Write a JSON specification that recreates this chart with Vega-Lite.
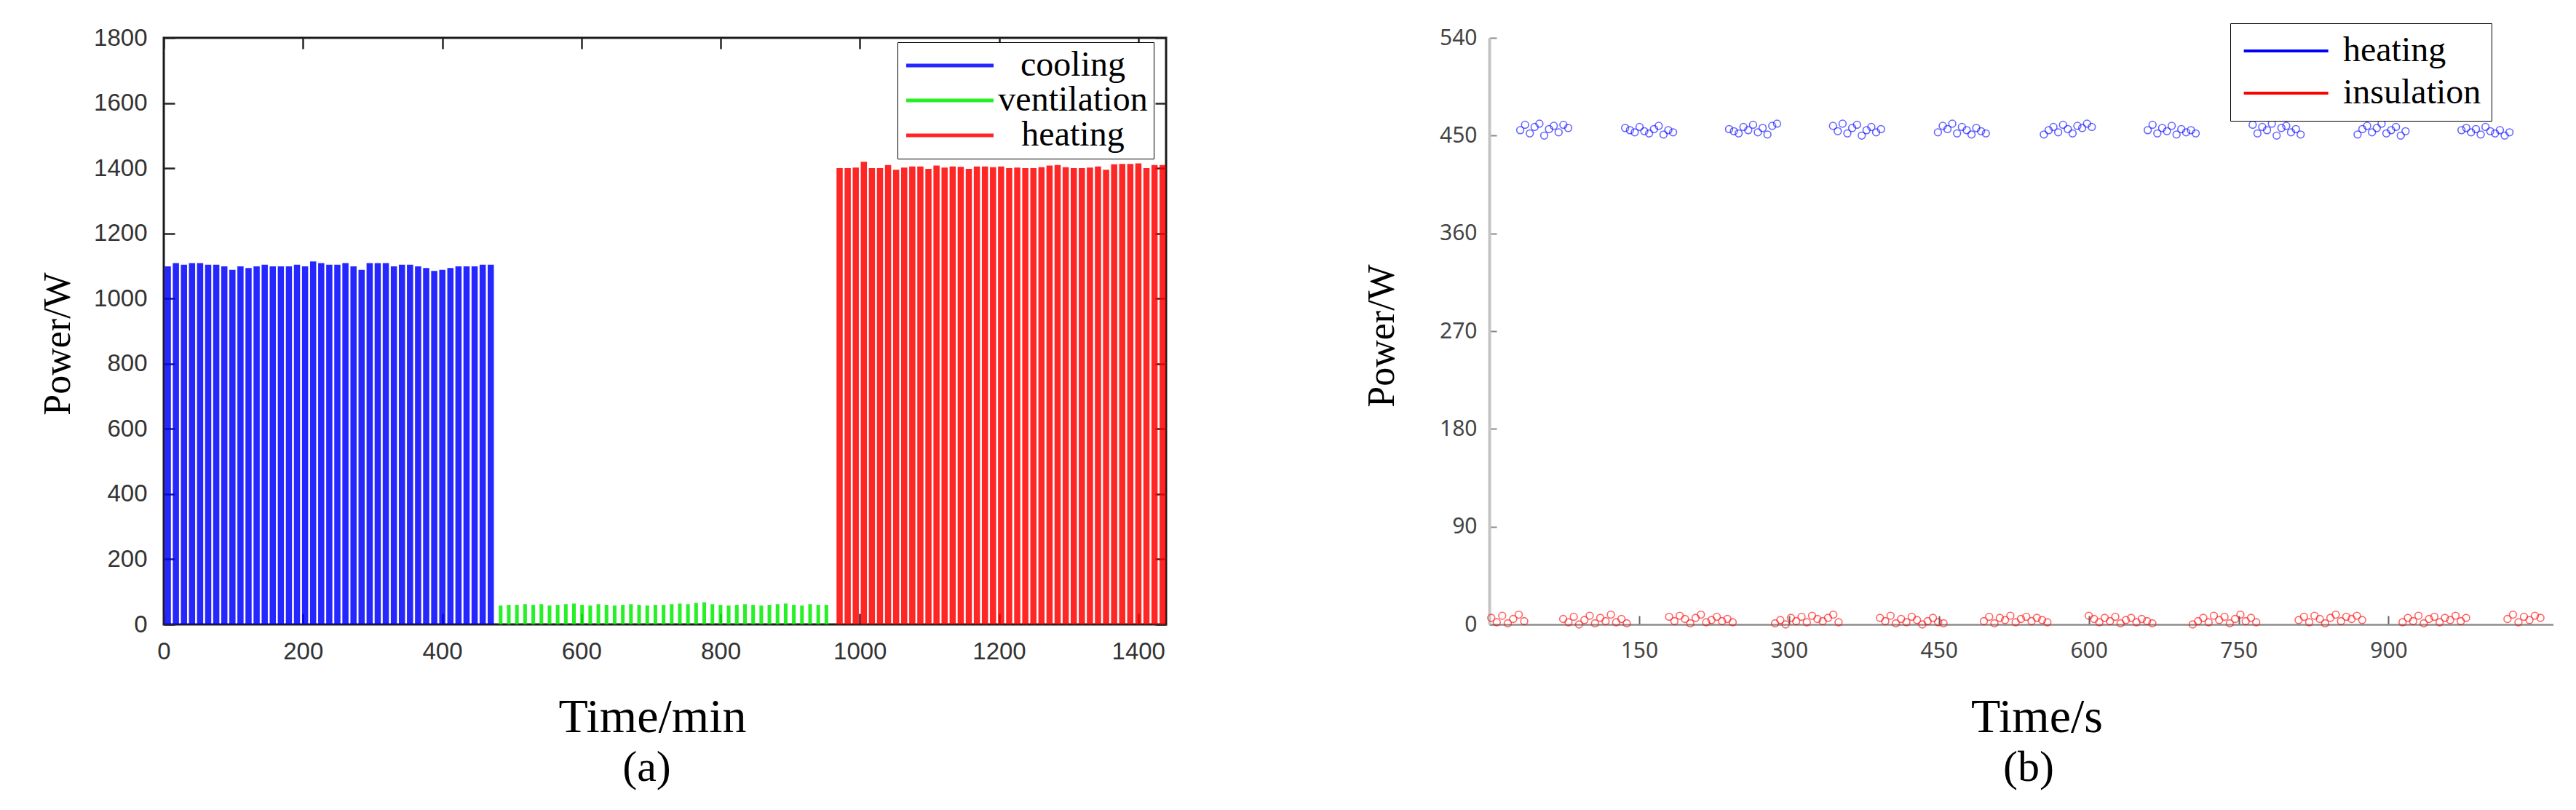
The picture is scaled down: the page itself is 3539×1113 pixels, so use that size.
{
  "$schema": "https://vega.github.io/schema/vega-lite/v6.json",
  "padding": {"left": 51, "top": 31, "right": 0, "bottom": 0},
  "background": "white",
  "spacing": 267,
  "config": {
    "font": "Liberation Sans",
    "axis": {"labelFlush": false, "labelOverlap": false, "grid": false, "titleFontWeight": "normal", "titleColor": "black"},
    "title": {"fontWeight": "normal", "color": "black"}
  },
  "datasets": {
    "a": [
      {"t":5.8,"p":1099,"s":"cooling"},{"t":17.4,"p":1109,"s":"cooling"},{"t":29,"p":1104,"s":"cooling"},{"t":40.6,"p":1109,"s":"cooling"},{"t":52.2,"p":1109,"s":"cooling"},
      {"t":63.8,"p":1104,"s":"cooling"},{"t":75.4,"p":1104,"s":"cooling"},{"t":87,"p":1099,"s":"cooling"},{"t":98.6,"p":1088,"s":"cooling"},{"t":110.2,"p":1099,"s":"cooling"},
      {"t":121.8,"p":1094,"s":"cooling"},{"t":133.4,"p":1099,"s":"cooling"},{"t":145,"p":1104,"s":"cooling"},{"t":156.6,"p":1099,"s":"cooling"},{"t":168.2,"p":1099,"s":"cooling"},
      {"t":179.8,"p":1099,"s":"cooling"},{"t":191.4,"p":1104,"s":"cooling"},{"t":203,"p":1099,"s":"cooling"},{"t":214.6,"p":1114,"s":"cooling"},{"t":226.2,"p":1109,"s":"cooling"},
      {"t":237.8,"p":1104,"s":"cooling"},{"t":249.4,"p":1104,"s":"cooling"},{"t":261,"p":1109,"s":"cooling"},{"t":272.6,"p":1099,"s":"cooling"},{"t":284.2,"p":1088,"s":"cooling"},
      {"t":295.8,"p":1109,"s":"cooling"},{"t":307.4,"p":1109,"s":"cooling"},{"t":319,"p":1109,"s":"cooling"},{"t":330.6,"p":1099,"s":"cooling"},{"t":342.2,"p":1104,"s":"cooling"},
      {"t":353.8,"p":1104,"s":"cooling"},{"t":365.4,"p":1099,"s":"cooling"},{"t":377,"p":1094,"s":"cooling"},{"t":388.6,"p":1085,"s":"cooling"},{"t":400.2,"p":1088,"s":"cooling"},
      {"t":411.8,"p":1094,"s":"cooling"},{"t":423.4,"p":1099,"s":"cooling"},{"t":435,"p":1099,"s":"cooling"},{"t":446.6,"p":1099,"s":"cooling"},{"t":458.2,"p":1104,"s":"cooling"},
      {"t":469.8,"p":1104,"s":"cooling"},
      {"t":484,"p":58,"s":"ventilation"},{"t":495.7,"p":60,"s":"ventilation"},{"t":507.4,"p":60,"s":"ventilation"},{"t":519.1,"p":62,"s":"ventilation"},{"t":530.8,"p":60,"s":"ventilation"},
      {"t":542.5,"p":62,"s":"ventilation"},{"t":554.2,"p":58,"s":"ventilation"},{"t":565.9,"p":60,"s":"ventilation"},{"t":577.6,"p":62,"s":"ventilation"},{"t":589.3,"p":64,"s":"ventilation"},
      {"t":601,"p":60,"s":"ventilation"},{"t":612.7,"p":58,"s":"ventilation"},{"t":624.4,"p":62,"s":"ventilation"},{"t":636.1,"p":60,"s":"ventilation"},{"t":647.8,"p":58,"s":"ventilation"},
      {"t":659.5,"p":60,"s":"ventilation"},{"t":671.2,"p":62,"s":"ventilation"},{"t":682.9,"p":60,"s":"ventilation"},{"t":694.6,"p":58,"s":"ventilation"},{"t":706.3,"p":60,"s":"ventilation"},
      {"t":718,"p":60,"s":"ventilation"},{"t":729.7,"p":62,"s":"ventilation"},{"t":741.4,"p":64,"s":"ventilation"},{"t":753.1,"p":62,"s":"ventilation"},{"t":764.8,"p":66,"s":"ventilation"},
      {"t":776.5,"p":68,"s":"ventilation"},{"t":788.2,"p":62,"s":"ventilation"},{"t":799.9,"p":60,"s":"ventilation"},{"t":811.6,"p":58,"s":"ventilation"},{"t":823.3,"p":60,"s":"ventilation"},
      {"t":835,"p":62,"s":"ventilation"},{"t":846.7,"p":60,"s":"ventilation"},{"t":858.4,"p":58,"s":"ventilation"},{"t":870.1,"p":60,"s":"ventilation"},{"t":881.8,"p":62,"s":"ventilation"},
      {"t":893.5,"p":64,"s":"ventilation"},{"t":905.2,"p":60,"s":"ventilation"},{"t":916.9,"p":58,"s":"ventilation"},{"t":928.6,"p":62,"s":"ventilation"},{"t":940.3,"p":60,"s":"ventilation"},
      {"t":952,"p":60,"s":"ventilation"},
      {"t":971,"p":1400,"s":"heating"},{"t":982.6,"p":1400,"s":"heating"},{"t":994.2,"p":1402,"s":"heating"},{"t":1005.8,"p":1420,"s":"heating"},{"t":1017.4,"p":1400,"s":"heating"},
      {"t":1029,"p":1400,"s":"heating"},{"t":1040.6,"p":1410,"s":"heating"},{"t":1052.2,"p":1395,"s":"heating"},{"t":1063.8,"p":1402,"s":"heating"},{"t":1075.4,"p":1405,"s":"heating"},
      {"t":1087,"p":1405,"s":"heating"},{"t":1098.6,"p":1398,"s":"heating"},{"t":1110.2,"p":1408,"s":"heating"},{"t":1121.8,"p":1402,"s":"heating"},{"t":1133.4,"p":1405,"s":"heating"},
      {"t":1145,"p":1404,"s":"heating"},{"t":1156.6,"p":1398,"s":"heating"},{"t":1168.2,"p":1405,"s":"heating"},{"t":1179.8,"p":1405,"s":"heating"},{"t":1191.4,"p":1403,"s":"heating"},
      {"t":1203,"p":1405,"s":"heating"},{"t":1214.6,"p":1400,"s":"heating"},{"t":1226.2,"p":1402,"s":"heating"},{"t":1237.8,"p":1400,"s":"heating"},{"t":1249.4,"p":1400,"s":"heating"},
      {"t":1261,"p":1403,"s":"heating"},{"t":1272.6,"p":1408,"s":"heating"},{"t":1284.2,"p":1410,"s":"heating"},{"t":1295.8,"p":1403,"s":"heating"},{"t":1307.4,"p":1400,"s":"heating"},
      {"t":1319,"p":1400,"s":"heating"},{"t":1330.6,"p":1402,"s":"heating"},{"t":1342.2,"p":1405,"s":"heating"},{"t":1353.8,"p":1395,"s":"heating"},{"t":1365.4,"p":1412,"s":"heating"},
      {"t":1377,"p":1413,"s":"heating"},{"t":1388.6,"p":1413,"s":"heating"},{"t":1400.2,"p":1415,"s":"heating"},{"t":1411.8,"p":1400,"s":"heating"},{"t":1423.4,"p":1410,"s":"heating"},
      {"t":1435,"p":1410,"s":"heating"}
    ],
    "b": [
      {"t":31,"p":455,"s":"heating"},{"t":35.8,"p":460,"s":"heating"},{"t":40.6,"p":452,"s":"heating"},{"t":45.4,"p":458,"s":"heating"},{"t":50.2,"p":461,"s":"heating"},{"t":55,"p":450,"s":"heating"},{"t":59.8,"p":456,"s":"heating"},{"t":64.6,"p":459,"s":"heating"},{"t":69.4,"p":453,"s":"heating"},{"t":74.2,"p":460,"s":"heating"},{"t":79,"p":457,"s":"heating"},
      {"t":136,"p":457,"s":"heating"},{"t":140.8,"p":455,"s":"heating"},{"t":145.6,"p":453,"s":"heating"},{"t":150.4,"p":458,"s":"heating"},{"t":155.2,"p":454,"s":"heating"},{"t":160,"p":452,"s":"heating"},{"t":164.8,"p":456,"s":"heating"},{"t":169.6,"p":459,"s":"heating"},{"t":174.4,"p":451,"s":"heating"},{"t":179.2,"p":455,"s":"heating"},{"t":184,"p":453,"s":"heating"},
      {"t":240,"p":456,"s":"heating"},{"t":244.8,"p":454,"s":"heating"},{"t":249.6,"p":452,"s":"heating"},{"t":254.4,"p":458,"s":"heating"},{"t":259.2,"p":455,"s":"heating"},{"t":264,"p":460,"s":"heating"},{"t":268.8,"p":453,"s":"heating"},{"t":273.6,"p":457,"s":"heating"},{"t":278.4,"p":451,"s":"heating"},{"t":283.2,"p":459,"s":"heating"},{"t":288,"p":461,"s":"heating"},
      {"t":344,"p":459,"s":"heating"},{"t":348.8,"p":454,"s":"heating"},{"t":353.6,"p":461,"s":"heating"},{"t":358.4,"p":452,"s":"heating"},{"t":363.2,"p":457,"s":"heating"},{"t":368,"p":460,"s":"heating"},{"t":372.8,"p":450,"s":"heating"},{"t":377.6,"p":455,"s":"heating"},{"t":382.4,"p":458,"s":"heating"},{"t":387.2,"p":453,"s":"heating"},{"t":392,"p":456,"s":"heating"},
      {"t":449,"p":453,"s":"heating"},{"t":453.8,"p":459,"s":"heating"},{"t":458.6,"p":456,"s":"heating"},{"t":463.4,"p":461,"s":"heating"},{"t":468.2,"p":452,"s":"heating"},{"t":473,"p":458,"s":"heating"},{"t":477.8,"p":455,"s":"heating"},{"t":482.6,"p":451,"s":"heating"},{"t":487.4,"p":457,"s":"heating"},{"t":492.2,"p":454,"s":"heating"},{"t":497,"p":452,"s":"heating"},
      {"t":555,"p":451,"s":"heating"},{"t":559.8,"p":455,"s":"heating"},{"t":564.6,"p":458,"s":"heating"},{"t":569.4,"p":453,"s":"heating"},{"t":574.2,"p":460,"s":"heating"},{"t":579,"p":456,"s":"heating"},{"t":583.8,"p":452,"s":"heating"},{"t":588.6,"p":459,"s":"heating"},{"t":593.4,"p":457,"s":"heating"},{"t":598.2,"p":461,"s":"heating"},{"t":603,"p":458,"s":"heating"},
      {"t":659,"p":455,"s":"heating"},{"t":663.8,"p":460,"s":"heating"},{"t":668.6,"p":452,"s":"heating"},{"t":673.4,"p":457,"s":"heating"},{"t":678.2,"p":454,"s":"heating"},{"t":683,"p":459,"s":"heating"},{"t":687.8,"p":451,"s":"heating"},{"t":692.6,"p":456,"s":"heating"},{"t":697.4,"p":453,"s":"heating"},{"t":702.2,"p":455,"s":"heating"},{"t":707,"p":452,"s":"heating"},
      {"t":764,"p":460,"s":"heating"},{"t":768.8,"p":452,"s":"heating"},{"t":773.6,"p":458,"s":"heating"},{"t":778.4,"p":455,"s":"heating"},{"t":783.2,"p":461,"s":"heating"},{"t":788,"p":450,"s":"heating"},{"t":792.8,"p":457,"s":"heating"},{"t":797.6,"p":459,"s":"heating"},{"t":802.4,"p":453,"s":"heating"},{"t":807.2,"p":456,"s":"heating"},{"t":812,"p":451,"s":"heating"},
      {"t":869,"p":451,"s":"heating"},{"t":873.8,"p":456,"s":"heating"},{"t":878.6,"p":459,"s":"heating"},{"t":883.4,"p":453,"s":"heating"},{"t":888.2,"p":457,"s":"heating"},{"t":893,"p":461,"s":"heating"},{"t":897.8,"p":452,"s":"heating"},{"t":902.6,"p":455,"s":"heating"},{"t":907.4,"p":458,"s":"heating"},{"t":912.2,"p":450,"s":"heating"},{"t":917,"p":454,"s":"heating"},
      {"t":973,"p":455,"s":"heating"},{"t":977.8,"p":457,"s":"heating"},{"t":982.6,"p":453,"s":"heating"},{"t":987.4,"p":456,"s":"heating"},{"t":992.2,"p":451,"s":"heating"},{"t":997,"p":458,"s":"heating"},{"t":1001.8,"p":454,"s":"heating"},{"t":1006.6,"p":452,"s":"heating"},{"t":1011.4,"p":455,"s":"heating"},{"t":1016.2,"p":450,"s":"heating"},{"t":1021,"p":453,"s":"heating"},
      {"t":2,"p":6,"s":"insulation"},{"t":7.5,"p":2,"s":"insulation"},{"t":13,"p":8,"s":"insulation"},{"t":18.5,"p":1,"s":"insulation"},{"t":24,"p":5,"s":"insulation"},{"t":29.5,"p":9,"s":"insulation"},{"t":35,"p":3,"s":"insulation"},
      {"t":74,"p":5,"s":"insulation"},{"t":79.3,"p":2,"s":"insulation"},{"t":84.6,"p":7,"s":"insulation"},{"t":89.9,"p":0,"s":"insulation"},{"t":95.2,"p":4,"s":"insulation"},{"t":100.5,"p":8,"s":"insulation"},{"t":105.8,"p":1,"s":"insulation"},{"t":111.1,"p":6,"s":"insulation"},{"t":116.4,"p":3,"s":"insulation"},{"t":121.7,"p":9,"s":"insulation"},{"t":127,"p":2,"s":"insulation"},{"t":132.3,"p":5,"s":"insulation"},{"t":137.6,"p":1,"s":"insulation"},
      {"t":180,"p":7,"s":"insulation"},{"t":185.3,"p":3,"s":"insulation"},{"t":190.6,"p":8,"s":"insulation"},{"t":195.9,"p":5,"s":"insulation"},{"t":201.2,"p":1,"s":"insulation"},{"t":206.5,"p":6,"s":"insulation"},{"t":211.8,"p":9,"s":"insulation"},{"t":217.1,"p":2,"s":"insulation"},{"t":222.4,"p":4,"s":"insulation"},{"t":227.7,"p":7,"s":"insulation"},{"t":233,"p":3,"s":"insulation"},{"t":238.3,"p":5,"s":"insulation"},{"t":243.6,"p":2,"s":"insulation"},
      {"t":286,"p":1,"s":"insulation"},{"t":291.3,"p":4,"s":"insulation"},{"t":296.6,"p":0,"s":"insulation"},{"t":301.9,"p":6,"s":"insulation"},{"t":307.2,"p":3,"s":"insulation"},{"t":312.5,"p":7,"s":"insulation"},{"t":317.8,"p":2,"s":"insulation"},{"t":323.1,"p":8,"s":"insulation"},{"t":328.4,"p":5,"s":"insulation"},{"t":333.7,"p":3,"s":"insulation"},{"t":339,"p":6,"s":"insulation"},{"t":344.3,"p":9,"s":"insulation"},{"t":349.6,"p":2,"s":"insulation"},
      {"t":391,"p":6,"s":"insulation"},{"t":396.3,"p":3,"s":"insulation"},{"t":401.6,"p":8,"s":"insulation"},{"t":406.9,"p":1,"s":"insulation"},{"t":412.2,"p":5,"s":"insulation"},{"t":417.5,"p":2,"s":"insulation"},{"t":422.8,"p":7,"s":"insulation"},{"t":428.1,"p":4,"s":"insulation"},{"t":433.4,"p":0,"s":"insulation"},{"t":438.7,"p":3,"s":"insulation"},{"t":444,"p":6,"s":"insulation"},{"t":449.3,"p":2,"s":"insulation"},{"t":454.6,"p":1,"s":"insulation"},
      {"t":495,"p":3,"s":"insulation"},{"t":500.3,"p":7,"s":"insulation"},{"t":505.6,"p":1,"s":"insulation"},{"t":510.9,"p":6,"s":"insulation"},{"t":516.2,"p":4,"s":"insulation"},{"t":521.5,"p":8,"s":"insulation"},{"t":526.8,"p":2,"s":"insulation"},{"t":532.1,"p":5,"s":"insulation"},{"t":537.4,"p":7,"s":"insulation"},{"t":542.7,"p":3,"s":"insulation"},{"t":548,"p":6,"s":"insulation"},{"t":553.3,"p":4,"s":"insulation"},{"t":558.6,"p":2,"s":"insulation"},
      {"t":600,"p":8,"s":"insulation"},{"t":605.3,"p":5,"s":"insulation"},{"t":610.6,"p":2,"s":"insulation"},{"t":615.9,"p":6,"s":"insulation"},{"t":621.2,"p":3,"s":"insulation"},{"t":626.5,"p":7,"s":"insulation"},{"t":631.8,"p":1,"s":"insulation"},{"t":637.1,"p":4,"s":"insulation"},{"t":642.4,"p":6,"s":"insulation"},{"t":647.7,"p":2,"s":"insulation"},{"t":653,"p":5,"s":"insulation"},{"t":658.3,"p":3,"s":"insulation"},{"t":663.6,"p":1,"s":"insulation"},
      {"t":704,"p":0,"s":"insulation"},{"t":709.3,"p":3,"s":"insulation"},{"t":714.6,"p":6,"s":"insulation"},{"t":719.9,"p":2,"s":"insulation"},{"t":725.2,"p":8,"s":"insulation"},{"t":730.5,"p":4,"s":"insulation"},{"t":735.8,"p":7,"s":"insulation"},{"t":741.1,"p":1,"s":"insulation"},{"t":746.4,"p":5,"s":"insulation"},{"t":751.7,"p":9,"s":"insulation"},{"t":757,"p":3,"s":"insulation"},{"t":762.3,"p":6,"s":"insulation"},{"t":767.6,"p":2,"s":"insulation"},
      {"t":810,"p":4,"s":"insulation"},{"t":815.3,"p":7,"s":"insulation"},{"t":820.6,"p":2,"s":"insulation"},{"t":825.9,"p":8,"s":"insulation"},{"t":831.2,"p":5,"s":"insulation"},{"t":836.5,"p":1,"s":"insulation"},{"t":841.8,"p":6,"s":"insulation"},{"t":847.1,"p":9,"s":"insulation"},{"t":852.4,"p":3,"s":"insulation"},{"t":857.7,"p":7,"s":"insulation"},{"t":863,"p":5,"s":"insulation"},{"t":868.3,"p":8,"s":"insulation"},{"t":873.6,"p":4,"s":"insulation"},
      {"t":914,"p":2,"s":"insulation"},{"t":919.3,"p":6,"s":"insulation"},{"t":924.6,"p":3,"s":"insulation"},{"t":929.9,"p":8,"s":"insulation"},{"t":935.2,"p":1,"s":"insulation"},{"t":940.5,"p":5,"s":"insulation"},{"t":945.8,"p":7,"s":"insulation"},{"t":951.1,"p":2,"s":"insulation"},{"t":956.4,"p":6,"s":"insulation"},{"t":961.7,"p":4,"s":"insulation"},{"t":967,"p":8,"s":"insulation"},{"t":972.3,"p":3,"s":"insulation"},{"t":977.6,"p":6,"s":"insulation"},
      {"t":1019,"p":5,"s":"insulation"},{"t":1024.5,"p":9,"s":"insulation"},{"t":1030,"p":2,"s":"insulation"},{"t":1035.5,"p":7,"s":"insulation"},{"t":1041,"p":4,"s":"insulation"},{"t":1046.5,"p":8,"s":"insulation"},{"t":1052,"p":6,"s":"insulation"}
    ]
  },
  "hconcat": [
    {
      "width": 1377,
      "height": 806,
      "data": {"name": "a"},
      "view": {"stroke": "#1a1a1a", "strokeWidth": 3},
      "title": {"text": "(a)", "orient": "bottom", "font": "Liberation Serif", "fontSize": 60, "frame": "group", "anchor": "middle", "dx": -25, "offset": 8},
      "layer": [
        {
          "transform": [{"filter": "datum.s !== 'ventilation'"}],
          "mark": {"type": "rule", "strokeWidth": 8.5, "opacity": 0.85},
          "encoding": {
            "x": {"field": "t", "type": "quantitative", "scale": {"domain": [0, 1440], "nice": false, "zero": false},
              "axis": {"orient": "bottom", "values": [0, 200, 400, 600, 800, 1000, 1200, 1400], "format": "d", "domain": false, "tickSize": -15, "tickWidth": 2.5, "tickColor": "#262626",
                "labelFont": "Liberation Sans", "labelFontSize": 33, "labelColor": "#333333", "labelPadding": 36,
                "title": "Time/min", "titleFont": "Liberation Serif", "titleFontSize": 66, "titleBaseline": "alphabetic", "titleX": 671, "titleY": 147}},
            "y": {"field": "p", "type": "quantitative", "scale": {"domain": [0, 1800], "nice": false},
              "axis": {"orient": "left", "values": [0, 200, 400, 600, 800, 1000, 1200, 1400, 1600, 1800], "format": "d", "domain": false, "tickSize": -15, "tickWidth": 2.5, "tickColor": "#262626",
                "labelFont": "Liberation Sans", "labelFontSize": 33, "labelColor": "#333333", "labelPadding": 38,
                "title": "Power/W", "titleFont": "Liberation Serif", "titleFontSize": 52, "titleBaseline": "middle", "titleAlign": "center", "titleAngle": -90, "titleX": -146, "titleY": 420}},
            "y2": {"datum": 0},
            "color": {"field": "s", "type": "nominal",
              "scale": {"domain": ["cooling", "ventilation", "heating"], "range": ["#0000ff", "#00ee00", "#ff0000"]},
              "legend": {"orient": "none", "legendX": 1008, "legendY": 6, "title": null, "symbolType": "M-1,0H5", "symbolSize": 1600, "symbolStrokeWidth": 5, "symbolOpacity": 1,
                "labelFont": "Liberation Serif", "labelFontSize": 48, "labelColor": "black", "labelAlign": "center", "labelOffset": 185, "labelLimit": 0,
                "fillColor": "white", "strokeColor": "black", "padding": 8, "rowPadding": 0}}
          }
        },
        {
          "transform": [{"filter": "datum.s === 'ventilation'"}],
          "mark": {"type": "rule", "strokeWidth": 5, "opacity": 0.85},
          "encoding": {
            "x": {"field": "t", "type": "quantitative",
              "axis": {"orient": "top", "values": [0, 200, 400, 600, 800, 1000, 1200, 1400], "domain": false, "labels": false, "title": null, "tickSize": -15, "tickWidth": 2.5, "tickColor": "#262626"}},
            "y": {"field": "p", "type": "quantitative",
              "axis": {"orient": "right", "values": [0, 200, 400, 600, 800, 1000, 1200, 1400, 1600, 1800], "domain": false, "labels": false, "title": null, "tickSize": -15, "tickWidth": 2.5, "tickColor": "#262626"}},
            "y2": {"datum": 0},
            "color": {"field": "s", "type": "nominal"}
          }
        }
      ],
      "resolve": {"axis": {"x": "independent", "y": "independent"}}
    },
    {
      "width": 1462,
      "height": 806,
      "data": {"name": "b"},
      "view": {"stroke": null},
      "title": {"text": "(b)", "orient": "bottom", "font": "Liberation Serif", "fontSize": 60, "frame": "group", "anchor": "middle", "dx": 10, "offset": 8},
      "mark": {"type": "point", "filled": false, "size": 95, "strokeWidth": 1.6, "opacity": 0.6},
      "encoding": {
        "x": {"field": "t", "type": "quantitative", "scale": {"domain": [0, 1065], "nice": false, "zero": false},
          "axis": {"values": [150, 300, 450, 600, 750, 900], "domainColor": "#8c8c8c", "domainWidth": 2.5, "tickSize": -12, "tickWidth": 2, "tickColor": "#666666",
            "labelFont": "Noto Sans", "labelFontSize": 30, "labelColor": "#444444", "labelPadding": 33,
            "title": "Time/s", "titleFont": "Liberation Serif", "titleFontSize": 66, "titleBaseline": "alphabetic", "titleX": 752, "titleY": 147}},
        "y": {"field": "p", "type": "quantitative", "scale": {"domain": [0, 540], "nice": false},
          "axis": {"values": [0, 90, 180, 270, 360, 450, 540], "domainColor": "#c4c4c4", "domainWidth": 4, "tickSize": -10, "tickWidth": 2, "tickColor": "#888888",
            "labelFont": "Noto Sans", "labelFontSize": 30, "labelColor": "#444444", "labelPadding": 27,
            "title": "Power/W", "titleFont": "Liberation Serif", "titleFontSize": 52, "titleBaseline": "middle", "titleAlign": "center", "titleAngle": -90, "titleX": -148, "titleY": 409}},
        "color": {"field": "s", "type": "nominal",
          "scale": {"domain": ["heating", "insulation"], "range": ["#0000ff", "#ff0000"]},
          "legend": {"orient": "none", "legendX": 1018, "legendY": -20, "title": null, "symbolType": "M-1,0H5", "symbolSize": 1495, "symbolStrokeWidth": 4, "symbolOpacity": 1,
            "labelFont": "Liberation Serif", "labelFontSize": 48, "labelColor": "black", "labelOffset": 93, "labelLimit": 0,
            "fillColor": "white", "strokeColor": "black", "padding": 14, "rowPadding": 10}}
      }
    }
  ],
  "resolve": {"scale": {"color": "independent"}, "legend": {"color": "independent"}}
}
